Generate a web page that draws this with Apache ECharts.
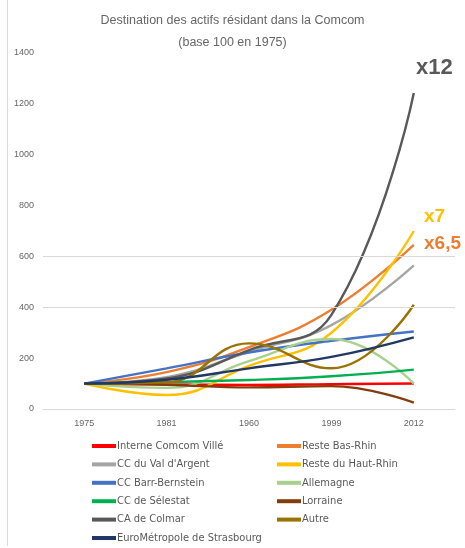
<!DOCTYPE html>
<html><head><meta charset="utf-8">
<script src="https://cdn.jsdelivr.net/npm/echarts@6/dist/echarts.min.js"></script>
<style>html,body{margin:0;padding:0;background:#fff}#c{width:465px;height:548px}</style>
</head><body><div id="c"></div>
<script>
const years = ['1975','1981','1960','1999','2012'];
const interneComcomVille = [100, 97, 95, 98, 100];
const resteBasRhin = [100, 145, 243, 390, 645];
const ccValArgent = [100, 125, 225, 330, 565];
const resteHautRhin = [100, 55, 170, 300, 700];
const ccBarrBernstein = [100, 160, 222, 268, 305];
const allemagne = [100, 83, 188, 275, 100];
const ccSelestat = [100, 106, 114, 129, 155];
const lorraine = [100, 95, 85, 90, 25];
const caColmar = [100, 120, 232, 370, 1243];
const autre = [100, 105, 258, 160, 410];
const euroMetropole = [100, 115, 160, 205, 282];
const yTicks = [0, 200, 400, 600, 800, 1000, 1200, 1400];

const defs = [
  ['Interne Comcom Villé', interneComcomVille, '#FF0000'],
  ['Reste Bas-Rhin', resteBasRhin, '#ED7D31'],
  ["CC du Val d'Argent", ccValArgent, '#A5A5A5'],
  ['Reste du Haut-Rhin', resteHautRhin, '#FFC000'],
  ['CC Barr-Bernstein', ccBarrBernstein, '#4472C4'],
  ['Allemagne', allemagne, '#A9D18E'],
  ['CC de Sélestat', ccSelestat, '#00B050'],
  ['Lorraine', lorraine, '#843C0C'],
  ['CA de Colmar', caColmar, '#595959'],
  ['Autre', autre, '#997300'],
  ['EuroMétropole de Strasbourg', euroMetropole, '#203864']
];
const series = defs.map(([n, d, c]) => ({
  name: n, type: 'line', data: d, smooth: 0.45, symbol: 'none',
  lineStyle: {width: 2.4, color: c}, itemStyle: {color: c}, z: 3
}));
series[0].markLine = {
  silent: true, symbol: 'none', label: {show: false},
  lineStyle: {color: '#D9D9D9', width: 1, type: 'solid'},
  data: [{yAxis: 400}, {yAxis: 600}]
};
const leftNames = defs.filter((d, i) => i % 2 === 0).map(d => d[0]);
const rightNames = defs.filter((d, i) => i % 2 === 1).map(d => d[0]);
const legendCommon = {
  orient: 'vertical', itemWidth: 24, itemHeight: 4, icon: 'rect', itemGap: 4.4, height: 112,
  textStyle: {fontSize: 11, lineHeight: 14, color: '#595959', fontFamily: 'DejaVu Sans Condensed, Liberation Sans, sans-serif', padding: [0,0,0,-4]}
};
const chart = echarts.init(document.getElementById('c'));
chart.setOption({
  animation: false,
  title: {
    text: 'Destination des actifs résidant dans la Comcom\n(base 100 en 1975)',
    left: 'center', top: 5,
    textStyle: {fontSize: 12.5, fontWeight: 'normal', color: '#666666', lineHeight: 22, fontFamily: 'Liberation Sans, sans-serif'}
  },
  grid: {left: 43, right: 10, top: 53, bottom: 139},
  xAxis: {
    type: 'category', data: years, boundaryGap: true,
    axisLine: {lineStyle: {color: '#D9D9D9'}}, axisTick: {show: false},
    axisLabel: {fontSize: 9, color: '#666666', margin: 10}
  },
  yAxis: {
    type: 'value', min: yTicks[0], max: yTicks[yTicks.length - 1], interval: 200,
    axisLine: {show: false}, axisTick: {show: false}, splitLine: {show: false},
    axisLabel: {fontSize: 9, color: '#666666', margin: 9, formatter: v => String(v)}
  },
  legend: [
    Object.assign({left: 87, top: 434, data: leftNames}, legendCommon),
    Object.assign({left: 272, top: 434, data: rightNames}, legendCommon)
  ],
  graphic: [
    {type: 'line', shape: {x1: 7.5, y1: 0, x2: 7.5, y2: 546}, style: {stroke: '#D9D9D9', lineWidth: 1}},
    {type: 'text', left: 416, top: 57, style: {text: 'x12', fill: '#595959', font: 'bold 22px Liberation Sans, sans-serif'}},
    {type: 'text', left: 424, top: 207, style: {text: 'x7', fill: '#FFC000', font: 'bold 19px Liberation Sans, sans-serif'}},
    {type: 'text', left: 424, top: 234, style: {text: 'x6,5', fill: '#ED7D31', font: 'bold 19px Liberation Sans, sans-serif'}}
  ],
  series: series
});
</script></body></html>
